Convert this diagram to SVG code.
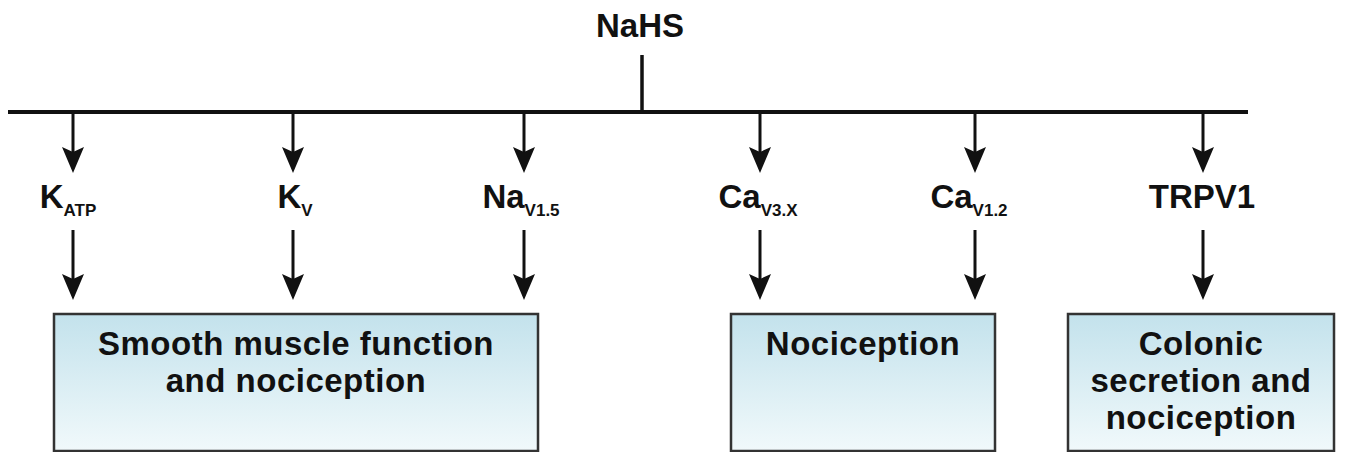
<svg xmlns="http://www.w3.org/2000/svg" width="1350" height="452" viewBox="0 0 1350 452">
<style>
.t{font-family:"Liberation Sans",Arial,sans-serif;font-weight:bold;fill:#111;text-anchor:middle}
.lbl{font-size:33px}
.sub{font-size:17px}
.box{font-size:33px;letter-spacing:0.5px}
.ln{stroke:#111;stroke-width:3.5;fill:none}
.ar{stroke:#111;stroke-width:3;fill:none;marker-end:url(#ah)}
.bx{fill:url(#g);stroke:#333;stroke-width:2.5}
</style>
<defs>
<linearGradient id="g" x1="0" y1="0" x2="0" y2="1">
<stop offset="0" stop-color="#c3e2ec"/>
<stop offset="1" stop-color="#f1f9fb"/>
</linearGradient>
<marker id="ah" viewBox="0 0 26 22" refX="20" refY="11" markerWidth="26" markerHeight="22" markerUnits="userSpaceOnUse" orient="auto">
<path d="M0,0 L26,11 L0,22 L5,11 Z" fill="#111"/>
</marker>
</defs>
<rect width="1350" height="452" fill="#fff"/>
<g id="connectors">
<line class="ln" x1="642" y1="55" x2="642" y2="112"/>
<line class="ln" x1="8" y1="112" x2="1248" y2="112" style="stroke-width:4"/>
<line class="ar" x1="73" y1="112" x2="73" y2="167"/>
<line class="ar" x1="293" y1="112" x2="293" y2="167"/>
<line class="ar" x1="524" y1="112" x2="524" y2="167"/>
<line class="ar" x1="760" y1="112" x2="760" y2="167"/>
<line class="ar" x1="975" y1="112" x2="975" y2="167"/>
<line class="ar" x1="1203" y1="112" x2="1203" y2="167"/>
<line class="ar" x1="73" y1="230" x2="73" y2="294"/>
<line class="ar" x1="293" y1="230" x2="293" y2="294"/>
<line class="ar" x1="524" y1="230" x2="524" y2="294"/>
<line class="ar" x1="760" y1="230" x2="760" y2="294"/>
<line class="ar" x1="975" y1="230" x2="975" y2="294"/>
<line class="ar" x1="1203" y1="230" x2="1203" y2="294"/>
</g>
<g id="nahs"><text class="t lbl" x="640" y="37">NaHS</text></g>
<g id="katp"><text class="t lbl" x="68" y="208">K<tspan class="sub" dy="8">ATP</tspan></text></g>
<g id="kv"><text class="t lbl" x="295" y="208">K<tspan class="sub" dy="8">V</tspan></text></g>
<g id="nav15"><text class="t lbl" x="521" y="208">Na<tspan class="sub" dy="8">V1.5</tspan></text></g>
<g id="cav3x"><text class="t lbl" x="758" y="208">Ca<tspan class="sub" dy="8">V3.X</tspan></text></g>
<g id="cav12"><text class="t lbl" x="969" y="208">Ca<tspan class="sub" dy="8">V1.2</tspan></text></g>
<g id="trpv1"><text class="t lbl" x="1202" y="208">TRPV1</text></g>
<g id="box1">
<rect class="bx" x="54" y="314" width="484" height="137"/>
<text class="t box" x="296" y="355">Smooth muscle function</text>
<text class="t box" x="296" y="392">and nociception</text>
</g>
<g id="box2">
<rect class="bx" x="731" y="314" width="264" height="137"/>
<text class="t box" x="863" y="355">Nociception</text>
</g>
<g id="box3">
<rect class="bx" x="1068" y="314" width="266" height="137"/>
<text class="t box" x="1201" y="355">Colonic</text>
<text class="t box" x="1201" y="392">secretion and</text>
<text class="t box" x="1201" y="429">nociception</text>
</g>
</svg>
